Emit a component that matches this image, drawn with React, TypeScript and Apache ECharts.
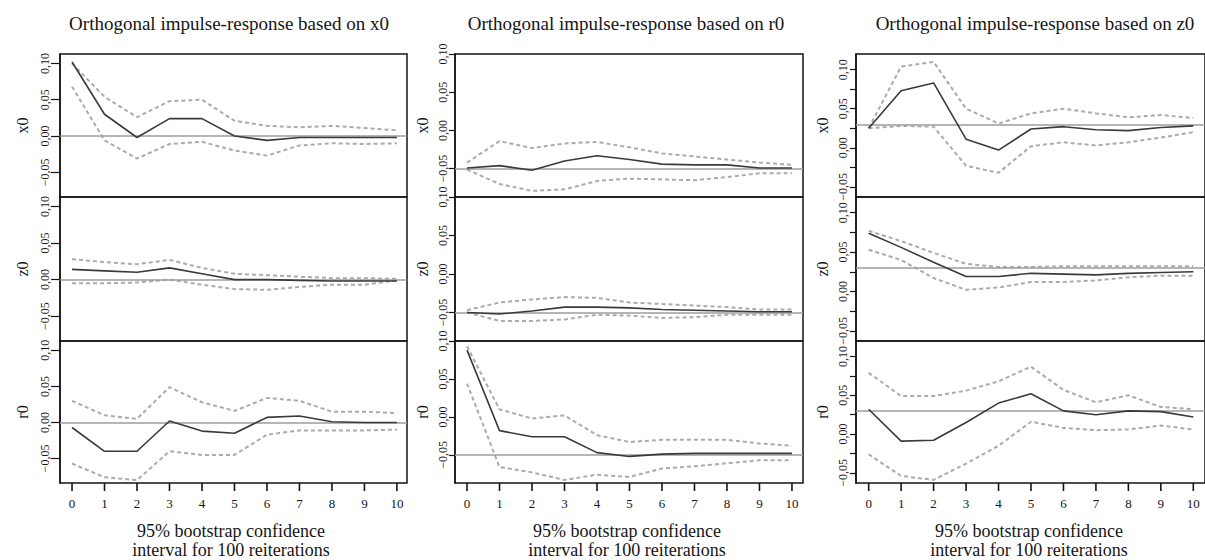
import React, { useEffect, useRef } from "react";
import * as echarts from "echarts";

// ---------- DATA ----------
const horizons = [0, 1, 2, 3, 4, 5, 6, 7, 8, 9, 10];
const columnTitles = [
  "Orthogonal impulse-response based on x0",
  "Orthogonal impulse-response based on r0",
  "Orthogonal impulse-response based on z0",
];
const rowNames = ["x0", "z0", "r0"];
const captionLines = ["95% bootstrap confidence", "interval for 100 reiterations"];

// shock x0
const x0_x0_irf = [0.102, 0.03, -0.002, 0.024, 0.024, 0.0, -0.006, -0.002, -0.002, -0.002, -0.002];
const x0_x0_up = [0.1, 0.054, 0.026, 0.048, 0.05, 0.021, 0.014, 0.012, 0.014, 0.011, 0.008];
const x0_x0_lo = [0.068, -0.006, -0.031, -0.011, -0.008, -0.02, -0.027, -0.013, -0.01, -0.011, -0.01];

const x0_z0_irf = [0.014, 0.012, 0.01, 0.016, 0.008, 0.0, 0.0, -0.001, -0.002, -0.002, -0.002];
const x0_z0_up = [0.028, 0.024, 0.021, 0.027, 0.016, 0.008, 0.006, 0.004, 0.002, 0.002, 0.001];
const x0_z0_lo = [-0.005, -0.005, -0.004, 0.0, -0.007, -0.013, -0.014, -0.01, -0.007, -0.007, -0.001];

const x0_r0_irf = [-0.007, -0.04, -0.04, 0.002, -0.012, -0.015, 0.007, 0.009, 0.001, 0.0, 0.0];
const x0_r0_up = [0.03, 0.01, 0.005, 0.049, 0.028, 0.016, 0.034, 0.03, 0.015, 0.015, 0.013];
const x0_r0_lo = [-0.057, -0.076, -0.08, -0.04, -0.045, -0.045, -0.017, -0.011, -0.011, -0.011, -0.01];

// shock r0
const r0_x0_irf = [-0.049, -0.046, -0.052, -0.04, -0.033, -0.038, -0.044, -0.045, -0.045, -0.049, -0.049];
const r0_x0_up = [-0.042, -0.014, -0.023, -0.017, -0.015, -0.022, -0.03, -0.034, -0.038, -0.042, -0.045];
const r0_x0_lo = [-0.051, -0.07, -0.079, -0.077, -0.066, -0.063, -0.064, -0.065, -0.061, -0.056, -0.056];

const r0_z0_irf = [-0.05, -0.052, -0.048, -0.043, -0.043, -0.044, -0.046, -0.047, -0.048, -0.049, -0.049];
const r0_z0_up = [-0.047, -0.037, -0.033, -0.03, -0.031, -0.037, -0.039, -0.041, -0.043, -0.046, -0.046];
const r0_z0_lo = [-0.05, -0.061, -0.061, -0.059, -0.053, -0.054, -0.057, -0.056, -0.053, -0.053, -0.053];

const r0_r0_irf = [0.088, -0.018, -0.026, -0.026, -0.047, -0.052, -0.049, -0.048, -0.048, -0.048, -0.048];
const r0_r0_up = [0.093, 0.01, -0.002, 0.002, -0.024, -0.033, -0.03, -0.03, -0.03, -0.035, -0.038];
const r0_r0_lo = [0.044, -0.066, -0.073, -0.083, -0.076, -0.079, -0.068, -0.065, -0.061, -0.057, -0.057];

// shock z0
const z0_x0_irf = [0.025, 0.073, 0.083, 0.011, -0.003, 0.024, 0.027, 0.023, 0.022, 0.026, 0.028];
const z0_x0_up = [0.025, 0.104, 0.11, 0.05, 0.031, 0.044, 0.05, 0.044, 0.039, 0.042, 0.038];
const z0_x0_lo = [0.025, 0.028, 0.027, -0.023, -0.032, 0.002, 0.007, 0.003, 0.007, 0.013, 0.02];

const z0_z0_irf = [0.074, 0.056, 0.037, 0.019, 0.019, 0.023, 0.022, 0.021, 0.023, 0.024, 0.025];
const z0_z0_up = [0.077, 0.064, 0.049, 0.035, 0.031, 0.031, 0.032, 0.032, 0.032, 0.032, 0.032];
const z0_z0_lo = [0.053, 0.04, 0.017, 0.002, 0.005, 0.012, 0.012, 0.014, 0.018, 0.02, 0.02];

const z0_r0_irf = [0.032, -0.009, -0.008, 0.015, 0.04, 0.052, 0.03, 0.025, 0.03, 0.029, 0.022];
const z0_r0_up = [0.079, 0.049, 0.049, 0.056, 0.068, 0.087, 0.057, 0.041, 0.05, 0.035, 0.032];
const z0_r0_lo = [-0.026, -0.054, -0.059, -0.038, -0.015, 0.016, 0.008, 0.005, 0.006, 0.011, 0.006];

// reference (zero) lines per column, per row
const refLines = [
  [0.0, 0.0, -0.002],
  [-0.05, -0.05, -0.05],
  [0.025, 0.025, 0.025],
];

const yLabelTicks = [-0.05, 0, 0.05, 0.1];
const yFineTicks = [-0.05, -0.025, 0, 0.025, 0.05, 0.075, 0.1];

const panels = [
  [
    [x0_x0_irf, x0_x0_up, x0_x0_lo],
    [x0_z0_irf, x0_z0_up, x0_z0_lo],
    [x0_r0_irf, x0_r0_up, x0_r0_lo],
  ],
  [
    [r0_x0_irf, r0_x0_up, r0_x0_lo],
    [r0_z0_irf, r0_z0_up, r0_z0_lo],
    [r0_r0_irf, r0_r0_up, r0_r0_lo],
  ],
  [
    [z0_x0_irf, z0_x0_up, z0_x0_lo],
    [z0_z0_irf, z0_z0_up, z0_z0_lo],
    [z0_r0_irf, z0_r0_up, z0_r0_lo],
  ],
];

// ---------- LAYOUT ----------
const FONT = "Liberation Serif";
const INK = "#151515";
const cols = [
  { left: 60, width: 347, xmin: -0.37, xmax: 10.31, ymin: -0.084, ymax: 0.113, tickLen: 9, labelMargin: 9, nameGap: 30, fine: false, titleX: 229, capX: 231 },
  { left: 455, width: 348, xmin: -0.37, xmax: 10.34, ymin: -0.087, ymax: 0.1, tickLen: 6, labelMargin: 6, nameGap: 25, fine: false, titleX: 626, capX: 627 },
  { left: 856, width: 358, xmin: -0.39, xmax: 10.36, ymin: -0.063, ymax: 0.12, tickLen: 6, labelMargin: 7, nameGap: 26, fine: true, titleX: 1035, capX: 1029 },
];
const rows = [
  { top: 54, height: 143 },
  { top: 197, height: 144 },
  { top: 341, height: 142 },
];
const X_TICK_LEN = 8;

const fmt = (v: number) => {
  const s = Math.abs(v).toFixed(2).replace(".", ",");
  return v < -1e-9 ? "\u2212" + s : s;
};

function buildOption() {
  const grid: any[] = [];
  const xAxis: any[] = [];
  const yAxis: any[] = [];
  const series: any[] = [];
  const graphic: any[] = [];

  cols.forEach((c, ci) => {
    rows.forEach((r, ri) => {
      const idx = ci * 3 + ri;
      grid.push({
        left: c.left,
        top: r.top,
        width: c.width,
        height: r.height,
        show: true,
        borderColor: INK,
        borderWidth: 1.5,
        backgroundColor: "transparent",
        containLabel: false,
      });
      const bottomRow = ri === 2;
      xAxis.push({
        type: "value",
        gridIndex: idx,
        min: c.xmin,
        max: c.xmax,
        position: "bottom",
        show: bottomRow,
        axisLine: { show: false, onZero: false },
        splitLine: { show: false },
        axisTick: { show: false },
        axisLabel: {
          show: bottomRow,
          customValues: horizons,
          margin: 14,
          fontFamily: FONT,
          fontSize: 13,
          color: INK,
        },
      });
      yAxis.push({
        type: "value",
        gridIndex: idx,
        min: c.ymin,
        max: c.ymax,
        position: "left",
        name: rowNames[ri],
        nameLocation: "middle",
        nameGap: c.nameGap,
        nameTextStyle: { fontFamily: FONT, fontSize: 16, color: INK },
        axisLine: { show: true, onZero: false, lineStyle: { color: INK, width: 1.5 } },
        splitLine: { show: false },
        axisTick: {
          show: true,
          customValues: c.fine ? yFineTicks : yLabelTicks,
          length: c.tickLen,
          lineStyle: { color: INK, width: 1.2 },
        },
        axisLabel: {
          customValues: yLabelTicks,
          rotate: 90,
          margin: c.labelMargin,
          formatter: (v: number) => fmt(v),
          fontFamily: FONT,
          fontSize: 12,
          color: INK,
        },
      });
      const [irf, up, lo] = panels[ci][ri];
      const toPts = (a: number[]) => horizons.map((h, i) => [h, a[i]]);
      const ciStyle = { color: "#ababab", width: 2, type: [4, 3] };
      series.push({
        type: "line",
        xAxisIndex: idx,
        yAxisIndex: idx,
        data: toPts(up),
        symbol: "none",
        lineStyle: ciStyle,
        z: 2,
      });
      series.push({
        type: "line",
        xAxisIndex: idx,
        yAxisIndex: idx,
        data: toPts(lo),
        symbol: "none",
        lineStyle: ciStyle,
        z: 2,
      });
      series.push({
        type: "line",
        xAxisIndex: idx,
        yAxisIndex: idx,
        data: toPts(irf),
        symbol: "none",
        lineStyle: { color: "#3a3a3a", width: 1.6 },
        z: 4,
        markLine: {
          silent: true,
          symbol: "none",
          label: { show: false },
          lineStyle: { color: "#9d9d9d", width: 1.6, type: "solid" },
          data: [{ yAxis: refLines[ci][ri] }],
          z: 3,
        },
      });
    });

    graphic.push({
      type: "text",
      x: c.titleX,
      y: 23,
      style: {
        text: columnTitles[ci],
        align: "center",
        verticalAlign: "middle",
        fontFamily: FONT,
        fontSize: 19,
        fill: INK,
      },
    });
    captionLines.forEach((line, li) => {
      graphic.push({
        type: "text",
        x: c.capX,
        y: 531 + li * 19,
        style: {
          text: line,
          align: "center",
          verticalAlign: "middle",
          fontFamily: FONT,
          fontSize: 18,
          fill: INK,
        },
      });
    });
  });

  return {
    animation: false,
    backgroundColor: "#ffffff",
    textStyle: { fontFamily: FONT },
    grid,
    xAxis,
    yAxis,
    series,
    graphic,
  };
}

// x-axis tick marks below each bottom panel, positioned through the chart's own scales
function buildTicks(chart: any) {
  const ticks: any[] = [];
  cols.forEach((c, ci) => {
    const idx = ci * 3 + 2;
    horizons.forEach((h) => {
      const p = chart.convertToPixel({ gridIndex: idx }, [h, c.ymin]);
      if (!p || !isFinite(p[0]) || !isFinite(p[1])) return;
      ticks.push({
        type: "rect",
        z: 1000,
        silent: true,
        shape: { x: p[0] - 0.8, y: p[1], width: 1.6, height: X_TICK_LEN },
        style: { fill: INK },
      });
    });
  });
  return ticks;
}

export default function App() {
  const ref = useRef<HTMLDivElement>(null);
  useEffect(() => {
    if (!ref.current) return;
    const chart = echarts.init(ref.current, undefined, { renderer: "svg" });
    const option: any = buildOption();
    chart.setOption(option);
    chart.setOption({ graphic: option.graphic.concat(buildTicks(chart)) });
    return () => chart.dispose();
  }, []);
  return (
    <div
      ref={ref}
      style={{ position: "fixed", left: 0, top: 0, width: 1205, height: 560, background: "#fff" }}
    />
  );
}
